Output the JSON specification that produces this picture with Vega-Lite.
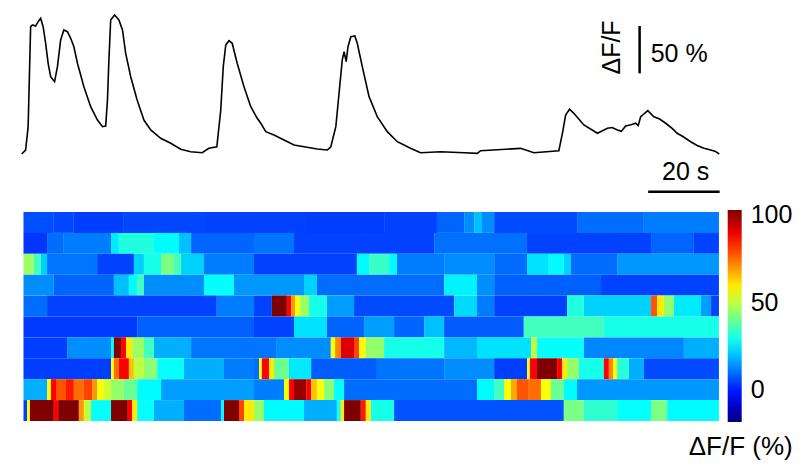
{
  "$schema": "https://vega.github.io/schema/vega-lite/v6.json",
  "padding": {"left": 17.7, "top": 10, "right": 0, "bottom": 0},
  "background": "white",
  "spacing": 12,
  "bounds": "flush",
  "config": {"view": {"stroke": null}, "font": "Liberation Sans"},
  "datasets": {
    "trace": [
      {"t":0,"dff":0},{"t":1.1,"dff":4.2},{"t":1.8,"dff":28.9},{"t":2.5,"dff":134.6},{"t":3.0,"dff":136.4},{"t":3.9,"dff":135.3},{"t":4.8,"dff":140.9},{"t":5.3,"dff":143.4},{"t":6.0,"dff":134.6},{"t":6.7,"dff":117.0},{"t":7.4,"dff":95.9},{"t":8.1,"dff":81.7},{"t":9.2,"dff":76.4},{"t":10.0,"dff":92.3},{"t":10.9,"dff":120.5},{"t":11.8,"dff":131.1},{"t":12.8,"dff":129.3},{"t":13.7,"dff":122.3},{"t":14.6,"dff":113.4},{"t":15.6,"dff":95.9},{"t":17.4,"dff":71.1},{"t":19.3,"dff":50.0},{"t":21.2,"dff":35.9},{"t":22.6,"dff":28.9},{"t":23.5,"dff":29.6},{"t":24.0,"dff":57.1},{"t":24.4,"dff":99.4},{"t":24.9,"dff":141.6},{"t":26.0,"dff":146.9},{"t":27.2,"dff":141.6},{"t":28.2,"dff":131.1},{"t":29.1,"dff":106.4},{"t":30.5,"dff":81.7},{"t":32.3,"dff":57.1},{"t":34.2,"dff":35.9},{"t":36.1,"dff":25.4},{"t":38.9,"dff":16.6},{"t":41.7,"dff":11.3},{"t":44.5,"dff":5.0},{"t":47.3,"dff":2.4},{"t":50.5,"dff":1.4},{"t":52.4,"dff":6.0},{"t":54.6,"dff":7.7},{"t":55.7,"dff":46.5},{"t":56.4,"dff":92.3},{"t":57.1,"dff":115.2},{"t":58.0,"dff":119.8},{"t":58.9,"dff":117.0},{"t":60.3,"dff":95.9},{"t":62.2,"dff":71.1},{"t":64.1,"dff":50.0},{"t":65.9,"dff":37.7},{"t":66.9,"dff":32.5},{"t":68.3,"dff":23.6},{"t":70.6,"dff":20.1},{"t":73.4,"dff":14.8},{"t":76.2,"dff":9.5},{"t":79.0,"dff":7.7},{"t":82.7,"dff":5.3},{"t":85.5,"dff":4.2},{"t":86.5,"dff":7.7},{"t":87.9,"dff":28.9},{"t":88.8,"dff":64.2},{"t":89.7,"dff":99.4},{"t":90.2,"dff":108.1},{"t":90.8,"dff":97.6},{"t":91.3,"dff":113.4},{"t":92.1,"dff":124.0},{"t":93.2,"dff":124.7},{"t":93.9,"dff":117.0},{"t":95.3,"dff":92.3},{"t":97.2,"dff":60.6},{"t":99.5,"dff":39.4},{"t":102.3,"dff":23.6},{"t":105.1,"dff":13.0},{"t":108.8,"dff":6.0},{"t":111.6,"dff":1.4},{"t":117.2,"dff":2.4},{"t":123.8,"dff":1.4},{"t":127.5,"dff":0.7},{"t":128.4,"dff":3.5},{"t":139.6,"dff":6.0},{"t":143.3,"dff":1.4},{"t":150.3,"dff":3.5},{"t":151.3,"dff":21.9},{"t":152.2,"dff":41.2},{"t":153.3,"dff":47.3},{"t":154.5,"dff":43.0},{"t":157.3,"dff":30.7},{"t":161.1,"dff":21.9},{"t":162.5,"dff":24.5},{"t":163.9,"dff":27.2},{"t":165.2,"dff":28.0},{"t":166.7,"dff":25.4},{"t":167.8,"dff":24.0},{"t":169.0,"dff":29.6},{"t":170.5,"dff":31.0},{"t":171.8,"dff":32.5},{"t":172.5,"dff":30.0},{"t":173.2,"dff":39.4},{"t":175.2,"dff":45.8},{"t":176.9,"dff":39.4},{"t":178.5,"dff":37.0},{"t":180.2,"dff":32.5},{"t":182.0,"dff":27.0},{"t":183.4,"dff":21.9},{"t":185.0,"dff":18.5},{"t":187.2,"dff":13.0},{"t":189.0,"dff":9.0},{"t":190.9,"dff":6.0},{"t":192.5,"dff":4.5},{"t":194.0,"dff":3.0},{"t":195.2,"dff":0}
    ],
    "bars": [
      {"t0":172.9,"t1":172.9,"y0":85.3,"y1":135.3},
      {"t0":175.3,"t1":195.3,"y0":-39.9,"y1":-39.9}
    ],
    "heat": [
      {"roi":1,"t0":0.5,"t1":9.0,"dff":6.6},{"roi":1,"t0":9.0,"t1":14.6,"dff":5.5},{"roi":1,"t0":14.6,"t1":28.6,"dff":4.5},{"roi":1,"t0":28.6,"t1":51.0,"dff":5.5},{"roi":1,"t0":51.0,"t1":65.0,"dff":5},{"roi":1,"t0":65.0,"t1":79.0,"dff":4.7},{"roi":1,"t0":79.0,"t1":101.4,"dff":4.5},{"roi":1,"t0":101.4,"t1":116.2,"dff":5},{"roi":1,"t0":116.2,"t1":123.8,"dff":9},{"roi":1,"t0":123.8,"t1":126.6,"dff":14},{"roi":1,"t0":126.6,"t1":128.8,"dff":20},{"roi":1,"t0":128.8,"t1":132.2,"dff":14},{"roi":1,"t0":132.2,"t1":155.4,"dff":6},{"roi":1,"t0":155.4,"t1":174.1,"dff":10},{"roi":1,"t0":174.1,"t1":195.1,"dff":12},
      {"roi":2,"t0":0.5,"t1":7.1,"dff":3.5},{"roi":2,"t0":7.1,"t1":11.8,"dff":10},{"roi":2,"t0":11.8,"t1":25.0,"dff":12},{"roi":2,"t0":25.0,"t1":27.2,"dff":25},{"roi":2,"t0":27.2,"t1":37.0,"dff":31},{"roi":2,"t0":37.0,"t1":44.0,"dff":27},{"roi":2,"t0":44.0,"t1":47.4,"dff":20},{"roi":2,"t0":47.4,"t1":65.0,"dff":9},{"roi":2,"t0":65.0,"t1":76.2,"dff":11},{"roi":2,"t0":76.2,"t1":115.4,"dff":5},{"roi":2,"t0":115.4,"t1":141.4,"dff":10.5},{"roi":2,"t0":141.4,"t1":176.1,"dff":5},{"roi":2,"t0":176.1,"t1":188.1,"dff":9},{"roi":2,"t0":188.1,"t1":195.1,"dff":5},
      {"roi":3,"t0":0.5,"t1":3.4,"dff":46},{"roi":3,"t0":3.4,"t1":5.4,"dff":35},{"roi":3,"t0":5.4,"t1":7.1,"dff":22},{"roi":3,"t0":7.1,"t1":21.1,"dff":11},{"roi":3,"t0":21.1,"t1":31.4,"dff":5},{"roi":3,"t0":31.4,"t1":34.2,"dff":22},{"roi":3,"t0":34.2,"t1":39.0,"dff":30},{"roi":3,"t0":39.0,"t1":42.6,"dff":42},{"roi":3,"t0":42.6,"t1":44.6,"dff":36},{"roi":3,"t0":44.6,"t1":51.0,"dff":22},{"roi":3,"t0":51.0,"t1":65.0,"dff":12},{"roi":3,"t0":65.0,"t1":93.8,"dff":5},{"roi":3,"t0":93.8,"t1":97.2,"dff":27},{"roi":3,"t0":97.2,"t1":102.8,"dff":34},{"roi":3,"t0":102.8,"t1":105.0,"dff":27},{"roi":3,"t0":105.0,"t1":118.2,"dff":12},{"roi":3,"t0":118.2,"t1":132.2,"dff":14},{"roi":3,"t0":132.2,"t1":141.4,"dff":10},{"roi":3,"t0":141.4,"t1":147.5,"dff":24},{"roi":3,"t0":147.5,"t1":151.7,"dff":27},{"roi":3,"t0":151.7,"t1":153.7,"dff":22},{"roi":3,"t0":153.7,"t1":166.6,"dff":10},{"roi":3,"t0":166.6,"t1":195.1,"dff":15},
      {"roi":4,"t0":0.5,"t1":9.0,"dff":14},{"roi":4,"t0":9.0,"t1":25.8,"dff":9},{"roi":4,"t0":25.8,"t1":30.0,"dff":20},{"roi":4,"t0":30.0,"t1":32.3,"dff":27},{"roi":4,"t0":32.3,"t1":34.2,"dff":35},{"roi":4,"t0":34.2,"t1":51.0,"dff":14},{"roi":4,"t0":51.0,"t1":59.4,"dff":28},{"roi":4,"t0":59.4,"t1":79.0,"dff":15},{"roi":4,"t0":79.0,"t1":82.6,"dff":22},{"roi":4,"t0":82.6,"t1":118.2,"dff":10},{"roi":4,"t0":118.2,"t1":127.4,"dff":26},{"roi":4,"t0":127.4,"t1":132.2,"dff":14},{"roi":4,"t0":132.2,"t1":162.1,"dff":8.5},{"roi":4,"t0":162.1,"t1":195.1,"dff":5},
      {"roi":5,"t0":0.5,"t1":7.1,"dff":10},{"roi":5,"t0":7.1,"t1":54.6,"dff":5},{"roi":5,"t0":54.6,"t1":65.0,"dff":12},{"roi":5,"t0":65.0,"t1":70.0,"dff":5},{"roi":5,"t0":70.0,"t1":74.2,"dff":103},{"roi":5,"t0":74.2,"t1":75.4,"dff":88},{"roi":5,"t0":75.4,"t1":76.5,"dff":70},{"roi":5,"t0":76.5,"t1":77.9,"dff":57},{"roi":5,"t0":77.9,"t1":80.4,"dff":46},{"roi":5,"t0":80.4,"t1":85.4,"dff":30},{"roi":5,"t0":85.4,"t1":93.0,"dff":16},{"roi":5,"t0":93.0,"t1":121.0,"dff":6},{"roi":5,"t0":121.0,"t1":127.4,"dff":23},{"roi":5,"t0":127.4,"t1":132.2,"dff":12},{"roi":5,"t0":132.2,"t1":152.6,"dff":5},{"roi":5,"t0":152.6,"t1":157.3,"dff":31},{"roi":5,"t0":157.3,"t1":176.1,"dff":22},{"roi":5,"t0":176.1,"t1":177.8,"dff":78},{"roi":5,"t0":177.8,"t1":179.7,"dff":60},{"roi":5,"t0":179.7,"t1":182.5,"dff":45},{"roi":5,"t0":182.5,"t1":190.1,"dff":25},{"roi":5,"t0":190.1,"t1":192.9,"dff":16},{"roi":5,"t0":192.9,"t1":195.1,"dff":5},
      {"roi":6,"t0":0.5,"t1":32.3,"dff":4},{"roi":6,"t0":32.3,"t1":65.0,"dff":8.5},{"roi":6,"t0":65.0,"t1":76.2,"dff":5},{"roi":6,"t0":76.2,"t1":85.4,"dff":24},{"roi":6,"t0":85.4,"t1":95.8,"dff":9},{"roi":6,"t0":95.8,"t1":104.2,"dff":16},{"roi":6,"t0":104.2,"t1":112.6,"dff":9},{"roi":6,"t0":112.6,"t1":118.2,"dff":20},{"roi":6,"t0":118.2,"t1":140.5,"dff":8},{"roi":6,"t0":140.5,"t1":162.9,"dff":35},{"roi":6,"t0":162.9,"t1":195.1,"dff":30},
      {"roi":7,"t0":0.5,"t1":12.7,"dff":4.5},{"roi":7,"t0":12.7,"t1":25.0,"dff":14},{"roi":7,"t0":25.0,"t1":25.8,"dff":27},{"roi":7,"t0":25.8,"t1":27.8,"dff":103},{"roi":7,"t0":27.8,"t1":29.2,"dff":88},{"roi":7,"t0":29.2,"t1":30.9,"dff":60},{"roi":7,"t0":30.9,"t1":34.2,"dff":46},{"roi":7,"t0":34.2,"t1":37.0,"dff":35},{"roi":7,"t0":37.0,"t1":47.4,"dff":18},{"roi":7,"t0":47.4,"t1":71.4,"dff":11},{"roi":7,"t0":71.4,"t1":86.5,"dff":14},{"roi":7,"t0":86.5,"t1":87.7,"dff":57},{"roi":7,"t0":87.7,"t1":89.3,"dff":72},{"roi":7,"t0":89.3,"t1":93.0,"dff":92},{"roi":7,"t0":93.0,"t1":94.4,"dff":80},{"roi":7,"t0":94.4,"t1":96.3,"dff":58},{"roi":7,"t0":96.3,"t1":101.4,"dff":45},{"roi":7,"t0":101.4,"t1":118.2,"dff":30},{"roi":7,"t0":118.2,"t1":127.4,"dff":19},{"roi":7,"t0":127.4,"t1":142.5,"dff":24},{"roi":7,"t0":142.5,"t1":144.2,"dff":50},{"roi":7,"t0":144.2,"t1":157.3,"dff":28},{"roi":7,"t0":157.3,"t1":185.3,"dff":13},{"roi":7,"t0":185.3,"t1":195.1,"dff":18},
      {"roi":8,"t0":0.5,"t1":25.0,"dff":4.5},{"roi":8,"t0":25.0,"t1":25.8,"dff":57},{"roi":8,"t0":25.8,"t1":27.2,"dff":75},{"roi":8,"t0":27.2,"t1":30.0,"dff":88},{"roi":8,"t0":30.0,"t1":31.4,"dff":65},{"roi":8,"t0":31.4,"t1":34.2,"dff":50},{"roi":8,"t0":34.2,"t1":37.9,"dff":44},{"roi":8,"t0":37.9,"t1":45.4,"dff":28},{"roi":8,"t0":45.4,"t1":56.6,"dff":18},{"roi":8,"t0":56.6,"t1":65.0,"dff":12},{"roi":8,"t0":65.0,"t1":66.4,"dff":10},{"roi":8,"t0":66.4,"t1":67.2,"dff":57},{"roi":8,"t0":67.2,"t1":69.2,"dff":88},{"roi":8,"t0":69.2,"t1":70.6,"dff":60},{"roi":8,"t0":70.6,"t1":74.8,"dff":40},{"roi":8,"t0":74.8,"t1":81.0,"dff":25},{"roi":8,"t0":81.0,"t1":99.4,"dff":8},{"roi":8,"t0":99.4,"t1":118.2,"dff":11},{"roi":8,"t0":118.2,"t1":132.2,"dff":14},{"roi":8,"t0":132.2,"t1":141.4,"dff":4.5},{"roi":8,"t0":141.4,"t1":142.2,"dff":57},{"roi":8,"t0":142.2,"t1":144.2,"dff":88},{"roi":8,"t0":144.2,"t1":149.8,"dff":103},{"roi":8,"t0":149.8,"t1":151.2,"dff":88},{"roi":8,"t0":151.2,"t1":152.6,"dff":60},{"roi":8,"t0":152.6,"t1":155.9,"dff":45},{"roi":8,"t0":155.9,"t1":162.9,"dff":30},{"roi":8,"t0":162.9,"t1":164.3,"dff":88},{"roi":8,"t0":164.3,"t1":165.5,"dff":72},{"roi":8,"t0":165.5,"t1":166.6,"dff":57},{"roi":8,"t0":166.6,"t1":169.9,"dff":32},{"roi":8,"t0":169.9,"t1":174.1,"dff":18},{"roi":8,"t0":174.1,"t1":195.1,"dff":6},
      {"roi":9,"t0":0.5,"t1":7.1,"dff":18},{"roi":9,"t0":7.1,"t1":8.2,"dff":57},{"roi":9,"t0":8.2,"t1":9.6,"dff":88},{"roi":9,"t0":9.6,"t1":12.4,"dff":78},{"roi":9,"t0":12.4,"t1":14.6,"dff":85},{"roi":9,"t0":14.6,"t1":17.4,"dff":75},{"roi":9,"t0":17.4,"t1":19.7,"dff":80},{"roi":9,"t0":19.7,"t1":21.1,"dff":70},{"roi":9,"t0":21.1,"t1":23.0,"dff":57},{"roi":9,"t0":23.0,"t1":25.0,"dff":52},{"roi":9,"t0":25.0,"t1":28.6,"dff":45},{"roi":9,"t0":28.6,"t1":32.3,"dff":40},{"roi":9,"t0":32.3,"t1":39.0,"dff":27},{"roi":9,"t0":39.0,"t1":65.0,"dff":16},{"roi":9,"t0":65.0,"t1":73.4,"dff":12},{"roi":9,"t0":73.4,"t1":74.8,"dff":57},{"roi":9,"t0":74.8,"t1":76.2,"dff":88},{"roi":9,"t0":76.2,"t1":79.6,"dff":100},{"roi":9,"t0":79.6,"t1":81.0,"dff":88},{"roi":9,"t0":81.0,"t1":82.6,"dff":65},{"roi":9,"t0":82.6,"t1":84.6,"dff":57},{"roi":9,"t0":84.6,"t1":87.4,"dff":44},{"roi":9,"t0":87.4,"t1":90.2,"dff":28},{"roi":9,"t0":90.2,"t1":127.4,"dff":10},{"roi":9,"t0":127.4,"t1":132.2,"dff":27},{"roi":9,"t0":132.2,"t1":135.0,"dff":35},{"roi":9,"t0":135.0,"t1":136.9,"dff":57},{"roi":9,"t0":136.9,"t1":138.6,"dff":68},{"roi":9,"t0":138.6,"t1":141.9,"dff":78},{"roi":9,"t0":141.9,"t1":145.3,"dff":75},{"roi":9,"t0":145.3,"t1":148.1,"dff":57},{"roi":9,"t0":148.1,"t1":151.7,"dff":40},{"roi":9,"t0":151.7,"t1":155.4,"dff":27},{"roi":9,"t0":155.4,"t1":195.1,"dff":15},
      {"roi":10,"t0":0.5,"t1":1.5,"dff":4.5},{"roi":10,"t0":1.5,"t1":2.3,"dff":57},{"roi":10,"t0":2.3,"t1":9.0,"dff":103},{"roi":10,"t0":9.0,"t1":10.2,"dff":88},{"roi":10,"t0":10.2,"t1":16.0,"dff":103},{"roi":10,"t0":16.0,"t1":17.4,"dff":70},{"roi":10,"t0":17.4,"t1":19.4,"dff":50},{"roi":10,"t0":19.4,"t1":25.0,"dff":28},{"roi":10,"t0":25.0,"t1":29.7,"dff":103},{"roi":10,"t0":29.7,"t1":30.9,"dff":88},{"roi":10,"t0":30.9,"t1":32.3,"dff":60},{"roi":10,"t0":32.3,"t1":37.0,"dff":28},{"roi":10,"t0":37.0,"t1":45.4,"dff":18},{"roi":10,"t0":45.4,"t1":55.8,"dff":10},{"roi":10,"t0":55.8,"t1":56.6,"dff":27},{"roi":10,"t0":56.6,"t1":60.8,"dff":103},{"roi":10,"t0":60.8,"t1":62.2,"dff":80},{"roi":10,"t0":62.2,"t1":65.0,"dff":60},{"roi":10,"t0":65.0,"t1":67.8,"dff":45},{"roi":10,"t0":67.8,"t1":79.0,"dff":27},{"roi":10,"t0":79.0,"t1":88.2,"dff":18},{"roi":10,"t0":88.2,"t1":89.3,"dff":30},{"roi":10,"t0":89.3,"t1":90.2,"dff":60},{"roi":10,"t0":90.2,"t1":94.9,"dff":103},{"roi":10,"t0":94.9,"t1":96.3,"dff":85},{"roi":10,"t0":96.3,"t1":97.7,"dff":60},{"roi":10,"t0":97.7,"t1":104.2,"dff":30},{"roi":10,"t0":104.2,"t1":151.7,"dff":7},{"roi":10,"t0":151.7,"t1":157.3,"dff":42},{"roi":10,"t0":157.3,"t1":166.6,"dff":33},{"roi":10,"t0":166.6,"t1":176.1,"dff":28},{"roi":10,"t0":176.1,"t1":180.6,"dff":42},{"roi":10,"t0":180.6,"t1":195.1,"dff":27}
    ]
  },
  "vconcat": [
    {
      "width": 697.6,
      "height": 190,
      "layer": [
        {
          "data": {"name": "trace"},
          "mark": {"type": "line", "color": "black", "strokeWidth": 1.6},
          "encoding": {
            "x": {"field": "t", "type": "quantitative", "scale": {"domain": [0, 195.2], "nice": false, "zero": false}, "axis": null},
            "y": {"field": "dff", "type": "quantitative", "scale": {"domain": [-48.6, 152.2], "nice": false, "zero": false}, "axis": null}
          }
        },
        {
          "data": {"name": "bars"},
          "mark": {"type": "rule", "color": "black", "strokeWidth": 2.5},
          "encoding": {
            "x": {"field": "t0", "type": "quantitative"},
            "x2": {"field": "t1"},
            "y": {"field": "y0", "type": "quantitative"},
            "y2": {"field": "y1"}
          }
        },
        {
          "data": {"values": [{"label": "ΔF/F", "t": 165.2, "dff": 112.6}]},
          "mark": {"type": "text", "angle": 270, "align": "center", "baseline": "middle", "fontSize": 25, "color": "black"},
          "encoding": {
            "x": {"field": "t", "type": "quantitative"},
            "y": {"field": "dff", "type": "quantitative"},
            "text": {"field": "label"}
          }
        },
        {
          "data": {"values": [{"label": "50 %", "t": 176.0, "dff": 97.6}]},
          "mark": {"type": "text", "align": "left", "baseline": "alphabetic", "fontSize": 25, "color": "black"},
          "encoding": {
            "x": {"field": "t", "type": "quantitative"},
            "y": {"field": "dff", "type": "quantitative"},
            "text": {"field": "label"}
          }
        },
        {
          "data": {"values": [{"label": "20 s", "t": 185.8, "dff": -27.5}]},
          "mark": {"type": "text", "align": "center", "baseline": "alphabetic", "fontSize": 25, "color": "black"},
          "encoding": {
            "x": {"field": "t", "type": "quantitative"},
            "y": {"field": "dff", "type": "quantitative"},
            "text": {"field": "label"}
          }
        }
      ]
    },
    {
      "width": 697.6,
      "height": 209,
      "data": {"name": "heat"},
      "mark": {"type": "rect"},
      "encoding": {
        "x": {"field": "t0", "type": "quantitative", "scale": {"domain": [0, 195.2], "nice": false, "zero": false}, "axis": null},
        "x2": {"field": "t1"},
        "y": {"field": "roi", "type": "ordinal", "axis": null, "scale": {"paddingInner": 0, "paddingOuter": 0}},
        "color": {
          "field": "dff", "type": "quantitative",
          "scale": {"domain": [-18, -2.875, 27.375, 57.625, 87.875, 103], "range": ["#00007f", "#0000ff", "#00ffff", "#ffff00", "#ff0000", "#7f0000"], "interpolate": "rgb", "clamp": true},
          "legend": {
            "orient": "none", "legendX": 667, "legendY": 200, "padding": 0,
            "type": "gradient", "direction": "vertical",
            "gradientLength": 212, "gradientThickness": 14, "gradientStrokeWidth": 0,
            "values": [0, 50, 100],
            "labelFontSize": 25, "labelFont": "Liberation Sans", "labelColor": "black", "labelOffset": 9, "labelBaseline": "middle", "labelOverlap": false,
            "title": "ΔF/F (%)", "titleOrient": "bottom", "titleAnchor": "end", "titleFontSize": 26, "titleFont": "Liberation Sans", "titleFontWeight": "normal", "titleColor": "black", "titlePadding": 12, "titleLimit": 300
          }
        }
      }
    }
  ]
}
